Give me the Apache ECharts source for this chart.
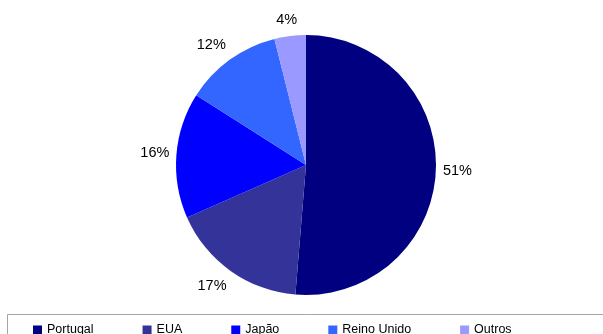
<!DOCTYPE html>
<html>
<head>
<meta charset="utf-8">
<script src="https://cdn.jsdelivr.net/npm/echarts@6/dist/echarts.min.js"></script>
<style>
html,body{margin:0;padding:0;background:#fff;}
#chart{width:603px;height:334px;}
</style>
</head>
<body>
<div id="chart"></div>
<script>
var categories = ['Portugal', 'EUA', 'Japão', 'Reino Unido', 'Outros'];
var values = [51.3, 17.1, 15.6, 12.1, 3.9];
var colors = ['#000080', '#333399', '#0000FF', '#3366FF', '#9999FF'];

var FONT = '"Liberation Sans", Arial, sans-serif';
var CX = 306, CY = 165, R = 130;
var data = categories.map(function (c, i) {
  return { name: c, value: values[i], itemStyle: { color: colors[i] } };
});
var labelData = categories.map(function (c, i) {
  return { name: c, value: values[i] };
});

function clamp1(v) { return Math.max(-1, Math.min(1, v)); }

// Excel-like outside label placement: anchor a point just outside the rim
// on the slice's mid-angle, then hang the label box off it (corner/edge).
function placeLabel(p) {
  var r = p.labelRect;
  var lx = r.x + r.width / 2, ly = r.y + r.height / 2;
  var dx = lx - CX, dy = ly - CY;
  var d = Math.sqrt(dx * dx + dy * dy) || 1;
  var ux = dx / d, uy = dy / d;
  var hw = r.width / 2, hh = 9, g = 7;
  var px = CX + ux * (R + g), py = CY + uy * (R + g);
  return {
    x: px + hw * clamp1(ux * 2),
    y: py + hh * clamp1(uy * 2),
    align: 'center',
    verticalAlign: 'middle'
  };
}

var chart = echarts.init(document.getElementById('chart'), null, { renderer: 'canvas' });
chart.setOption({
  animation: false,
  backgroundColor: '#ffffff',
  legend: {
    data: categories,
    left: 33,
    top: 323,
    padding: 0,
    icon: 'rect',
    itemWidth: 9,
    itemHeight: 9,
    itemGap: 49,
    textStyle: { fontFamily: FONT, fontSize: 12.5, color: '#000', lineHeight: 14 }
  },
  graphic: [{
    type: 'rect',
    shape: { x: 7.5, y: 314.5, width: 700, height: 40 },
    style: { fill: 'none', stroke: '#a6a6a6', lineWidth: 1 },
    silent: true,
    z: -1
  }],
  series: [{
    type: 'pie',
    center: [CX, CY],
    radius: [0, R],
    startAngle: 90,
    clockwise: true,
    avoidLabelOverlap: false,
    label: { show: false },
    labelLine: { show: false },
    emphasis: { disabled: true },
    data: data
  }, {
    type: 'pie',
    center: [CX, CY],
    radius: [146, 158],
    startAngle: 90,
    clockwise: true,
    silent: true,
    legendHoverLink: false,
    avoidLabelOverlap: false,
    itemStyle: { color: 'rgba(0,0,0,0)' },
    label: {
      show: true,
      position: 'inside',
      rotate: 0,
      fontFamily: FONT,
      fontSize: 14.5,
      color: '#000',
      formatter: function (p) { return Math.round(p.value) + '%'; }
    },
    labelLayout: placeLabel,
    labelLine: { show: false },
    emphasis: { disabled: true },
    data: labelData
  }]
});
</script>
</body>
</html>
